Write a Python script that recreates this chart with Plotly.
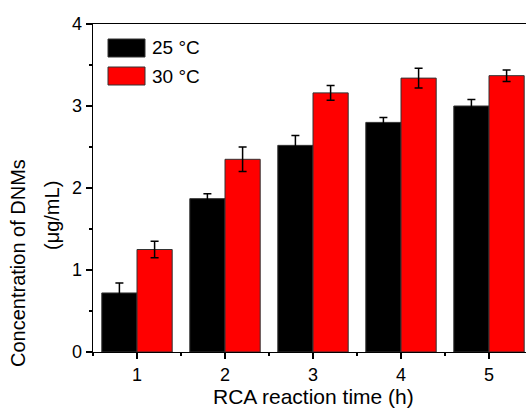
import plotly.graph_objects as go

times = [1, 2, 3, 4, 5]
tick_labels = ["1", "2", "3", "4", "5"]
conc_25 = [0.72, 1.87, 2.52, 2.80, 3.00]
err_25 = [0.12, 0.06, 0.12, 0.06, 0.08]
conc_30 = [1.25, 2.35, 3.16, 3.34, 3.37]
err_30 = [0.10, 0.15, 0.09, 0.12, 0.07]
series_names = ["25 °C", "30 °C"]
series_colors = ["#000000", "#ff0000"]

FONT = "Liberation Sans, Arial, sans-serif"

# plot area in window coords: x 93..533 (runs past the right edge of the window,
# as in the reference), y 24..352
PX0, PX1, PY0, PY1 = 93, 533, 24, 352
PW, PH = PX1 - PX0, PY1 - PY0

def px(x):
    return (x - PX0) / PW

def py(y):
    return (PY1 - y) / PH

fig = go.Figure()
for name, vals, errs, col in zip(series_names, [conc_25, conc_30], [err_25, err_30], series_colors):
    fig.add_trace(go.Bar(
        x=times, y=vals, name=name,
        marker=dict(color=col, line=dict(color="#333333", width=1)),
        error_y=dict(type="data", array=errs, visible=True, color="#000000",
                     thickness=1.5, width=4),
        showlegend=False,
    ))

# legend (swatches + labels)
rows = [(39, 57), (67, 85)]
for (ya, yb), name, col in zip(rows, series_names, series_colors):
    fig.add_shape(type="rect", xref="paper", yref="paper",
                  x0=px(108), x1=px(145), y0=py(yb), y1=py(ya),
                  fillcolor=col, line=dict(color="#333333", width=1))
    fig.add_annotation(xref="paper", yref="paper", x=px(150),
                       y=py((ya + yb) / 2), xanchor="left", yanchor="middle",
                       text=name, showarrow=False,
                       font=dict(family=FONT, size=19, color="#000000"))

# y title (two lines, end-aligned as in reference)
fig.add_annotation(xref="paper", yref="paper", x=px(18), y=py(263),
                   xanchor="center", yanchor="middle", textangle=-90, showarrow=False,
                   text="Concentration of DNMs", font=dict(family=FONT, size=20, color="#000000"))
fig.add_annotation(xref="paper", yref="paper", x=px(52), y=py(216),
                   xanchor="center", yanchor="middle", textangle=-90, showarrow=False,
                   text="(μg/mL)", font=dict(family=FONT, size=20, color="#000000"))
# x title
fig.add_annotation(xref="paper", yref="paper", x=px(313), y=py(396),
                   xanchor="center", yanchor="middle", showarrow=False,
                   text="RCA reaction time (h)", font=dict(family=FONT, size=21, color="#000000"))

W, H = 535, 412
fig.update_layout(
    width=W, height=H,
    margin=dict(l=PX0, r=W - PX1, t=PY0, b=H - PY1),
    paper_bgcolor="white", plot_bgcolor="white",
    barmode="group", bargap=0.2, bargroupgap=0,
    font=dict(family=FONT, size=18, color="#000000"),
    xaxis=dict(
        range=[0.5, 5.5], tickmode="array", tickvals=times, ticktext=tick_labels,
        showgrid=False, zeroline=False,
        showline=True, linecolor="#000000", linewidth=1.3, mirror=True,
        ticks="outside", ticklen=6, tickwidth=1.3, tickcolor="#000000",
        tickfont=dict(size=18),
        minor=dict(tickmode="linear", tick0=0.5, dtick=1, ticks="outside",
                   ticklen=3, tickwidth=1.3, tickcolor="#000000", showgrid=False),
    ),
    yaxis=dict(
        range=[0, 4], tickmode="linear", tick0=0, dtick=1,
        showgrid=False, zeroline=False,
        showline=True, linecolor="#000000", linewidth=1.3, mirror=True,
        ticks="outside", ticklen=6, tickwidth=1.3, tickcolor="#000000",
        tickfont=dict(size=18),
        minor=dict(tickmode="linear", tick0=0, dtick=0.5, ticks="outside",
                   ticklen=3, tickwidth=1.3, tickcolor="#000000", showgrid=False),
    ),
)

page_css = ("document.body.style.margin='0';"
            "document.body.style.overflow='hidden';"
            "document.documentElement.style.overflow='hidden';")
fig.write_html("out.html", post_script=page_css,
               config={"displayModeBar": False, "staticPlot": True})
